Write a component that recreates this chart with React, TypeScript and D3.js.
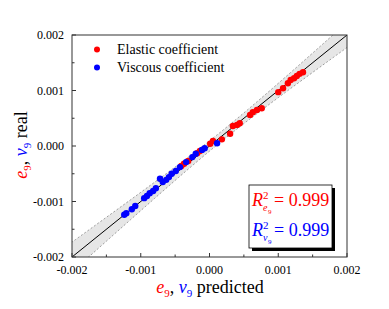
import React from "react";
import * as d3 from "d3";

const ticks = [-0.002, -0.001, 0, 0.001, 0.002];
const tickLabels = ["-0.002", "-0.001", "0.000", "0.001", "0.002"];
const minorTicks = [-0.0015, -0.0005, 0.0005, 0.0015];

// Elastic coefficient (red): predicted, real
const elasticPred = [-0.00041, -0.00037, -0.00031, -0.00018, -0.00014, 0.00001, 0.00005, 0.00018, 0.0003, 0.00034, 0.0004, 0.00044, 0.00059, 0.00063, 0.00069, 0.00076, 0.001, 0.00107, 0.00114, 0.00118, 0.00123, 0.00127, 0.00131, 0.00136];
const elasticReal = [-0.00036, -0.00032, -0.00027, -0.00013, -0.00009, 0.00004, 0.00009, 0.00012, 0.00022, 0.00036, 0.00038, 0.00041, 0.00056, 0.00061, 0.00065, 0.00068, 0.00097, 0.00104, 0.00113, 0.00119, 0.00122, 0.00126, 0.0013, 0.00133];

// Viscous coefficient (blue): predicted, real
const viscousPred = [-0.00124, -0.00121, -0.00113, -0.00108, -0.00095, -0.00091, -0.00087, -0.00082, -0.00078, -0.00072, -0.00068, -0.00063, -0.00059, -0.00055, -0.00049, -0.00043, -0.00034, -0.00025, -0.0002, -0.00011, -0.00007, 0.00011];
const viscousReal = [-0.00124, -0.00121, -0.00114, -0.00108, -0.00094, -0.0009, -0.00085, -0.00081, -0.00076, -0.00059, -0.00065, -0.00061, -0.00056, -0.0005, -0.00045, -0.00038, -0.00029, -0.0002, -0.00014, -0.00007, -0.00004, 0.00005];

// confidence band parameters (data units)
const bandA = 0.00009;
const bandB = 0.115;
const bandM = 0.0002;

const W = 389, H = 309;
const L = 72, R = 347, T = 35, B = 257;
const serif = "Liberation Serif";

export default function App() {
  const x = d3.scaleLinear().domain([-0.002, 0.002]).range([L, R]);
  const y = d3.scaleLinear().domain([-0.002, 0.002]).range([B, T]);
  const xsBand = d3.range(-0.0022, 0.00221, 0.00005);
  const half = (v: number) => Math.sqrt(bandA * bandA + (bandB * (v - bandM)) ** 2);
  const area = d3.area<number>().x((v) => x(v)).y0((v) => y(v - half(v))).y1((v) => y(v + half(v)));
  const upper = d3.line<number>().x((v) => x(v)).y((v) => y(v + half(v)));
  const lower = d3.line<number>().x((v) => x(v)).y((v) => y(v - half(v)));
  const sf = { fontFamily: serif };

  const r2x = 252;
  return (
    <svg width={W} height={H} style={{ position: "absolute", left: 0, top: 0, background: "#fff", fontFamily: serif }}>
      <defs>
        <clipPath id="plot">
          <rect x={L} y={T} width={R - L} height={B - T} />
        </clipPath>
      </defs>
      <g clipPath="url(#plot)">
        <path d={area(xsBand) || ""} fill="#e6e6e6" />
        <path d={upper(xsBand) || ""} fill="none" stroke="#888" strokeWidth={0.8} strokeDasharray="2,2" />
        <path d={lower(xsBand) || ""} fill="none" stroke="#888" strokeWidth={0.8} strokeDasharray="2,2" />
        <line x1={x(-0.002)} y1={y(-0.002)} x2={x(0.002)} y2={y(0.002)} stroke="#000" strokeWidth={1} />
        {elasticPred.map((p, i) => (
          <circle key={"e" + i} cx={x(p)} cy={y(elasticReal[i])} r={3.2} fill="#ff0000" />
        ))}
        {viscousPred.map((p, i) => (
          <circle key={"v" + i} cx={x(p)} cy={y(viscousReal[i])} r={3.2} fill="#0000ff" />
        ))}
      </g>
      <rect x={L} y={T} width={R - L} height={B - T} fill="none" stroke="#333" strokeWidth={1} />
      {ticks.map((t, i) => (
        <g key={"t" + i}>
          <line x1={x(t)} x2={x(t)} y1={B} y2={B - 4} stroke="#333" />
          <line x1={L} x2={L + 4} y1={y(t)} y2={y(t)} stroke="#333" />
          <text x={x(t)} y={274} fontSize={12} textAnchor="middle" fill="#000" style={sf}>{tickLabels[i]}</text>
          <text x={64} y={y(t) + 4} fontSize={12} textAnchor="end" fill="#000" style={sf}>{tickLabels[i]}</text>
        </g>
      ))}
      {minorTicks.map((t, i) => (
        <g key={"m" + i}>
          <line x1={x(t)} x2={x(t)} y1={B} y2={B - 2.5} stroke="#333" />
          <line x1={L} x2={L + 2.5} y1={y(t)} y2={y(t)} stroke="#333" />
        </g>
      ))}
      <circle cx={97} cy={49.5} r={3} fill="#ff0000" />
      <text x={117} y={54} fontSize={14} fill="#000" style={sf}>Elastic coefficient</text>
      <circle cx={97} cy={67.5} r={3} fill="#0000ff" />
      <text x={117} y={72} fontSize={14} fill="#000" style={sf}>Viscous coefficient</text>
      <text x={210} y={293} fontSize={18} textAnchor="middle" fill="#000" style={sf}>
        <tspan fill="#ff0000" fontStyle="italic">e</tspan>
        <tspan fill="#ff0000" fontSize={11} dy={4}>9</tspan>
        <tspan dy={-4}>, </tspan>
        <tspan fill="#0000ff" fontStyle="italic">v</tspan>
        <tspan fill="#0000ff" fontSize={11} dy={4}>9</tspan>
        <tspan dy={-4}> predicted</tspan>
      </text>
      <text transform="translate(27,145) rotate(-90)" fontSize={18} textAnchor="middle" fill="#000" style={sf}>
        <tspan fill="#ff0000" fontStyle="italic">e</tspan>
        <tspan fill="#ff0000" fontSize={11} dy={4}>9</tspan>
        <tspan dy={-4}>, </tspan>
        <tspan fill="#0000ff" fontStyle="italic">v</tspan>
        <tspan fill="#0000ff" fontSize={11} dy={4}>9</tspan>
        <tspan dy={-4}> real</tspan>
      </text>
      <rect x={252} y={188} width={83} height={63} fill="#000" />
      <rect x={249} y={185} width={83} height={63} fill="#fff" stroke="#000" strokeWidth={0.8} />
      <g fontSize={18} style={sf}>
        <text x={r2x} y={206} fill="#ff0000" fontStyle="italic">R</text>
        <text x={r2x + 11} y={199} fill="#ff0000" fontSize={11}>2</text>
        <text x={r2x + 11} y={211} fill="#ff0000" fontSize={10} fontStyle="italic">e</text>
        <text x={r2x + 16} y={214} fill="#ff0000" fontSize={7}>9</text>
        <text x={r2x + 22} y={206} fill="#ff0000">= 0.999</text>
        <text x={r2x} y={236} fill="#0000ff" fontStyle="italic">R</text>
        <text x={r2x + 11} y={229} fill="#0000ff" fontSize={11}>2</text>
        <text x={r2x + 11} y={241} fill="#0000ff" fontSize={10} fontStyle="italic">v</text>
        <text x={r2x + 16} y={244} fill="#0000ff" fontSize={7}>9</text>
        <text x={r2x + 22} y={236} fill="#0000ff">= 0.999</text>
      </g>
    </svg>
  );
}
